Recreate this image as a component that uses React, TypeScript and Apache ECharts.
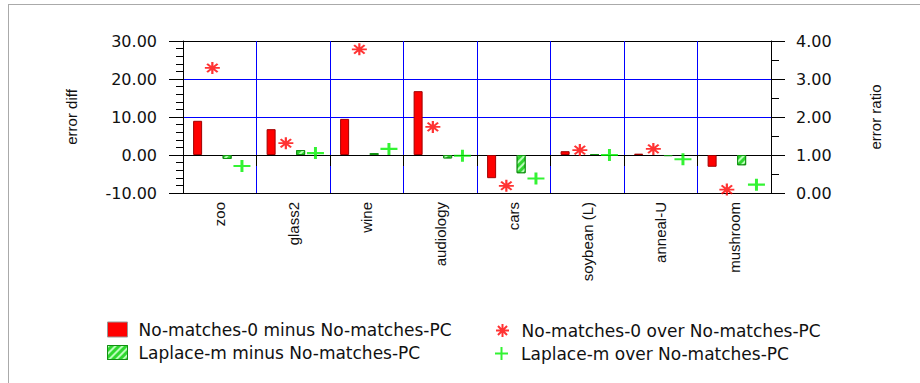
import React, { useEffect, useRef } from "react";
import * as echarts from "echarts";

const categories = ["zoo", "glass2", "wine", "audiology", "cars", "soybean (L)", "anneal-U", "mushroom"];
const diffNoMatches0 = [9.0, 6.8, 9.5, 16.8, -6.1, 1.0, 0.35, -3.1];
const diffLaplace = [-1.05, 1.3, 0.5, -0.9, -4.8, 0.25, -0.3, -2.7];
const ratioNoMatches0 = [3.29, 1.31, 3.78, 1.74, 0.19, 1.13, 1.16, 0.09];
const ratioLaplace = [0.71, 1.05, 1.16, 0.98, 0.38, 1.0, 0.89, 0.22];
const seriesNames = [
  "No-matches-0 minus No-matches-PC",
  "Laplace-m minus No-matches-PC",
  "No-matches-0 over No-matches-PC",
  "Laplace-m over No-matches-PC",
];

const STAR = "path://M0,6L12,6M6,0L6,12M1.8,1.8L10.2,10.2M10.2,1.8L1.8,10.2";
const PLUS = "path://M0,6L12,6M6,0L6,12";
const HFONT = "DejaVu Sans";
const VFONT = "Liberation Sans";

export default function App() {
  const ref = useRef<HTMLDivElement>(null);
  useEffect(() => {
    if (!ref.current) return;
    const chart = echarts.init(ref.current, null, { renderer: "svg" });
    const legendText = { fontFamily: HFONT, fontSize: 17, color: "#111", padding: [0, 0, 0, 6] };
    const greenDecal = {
      symbol: "rect",
      color: "rgba(200,255,200,0.9)",
      dashArrayX: [1, 0],
      dashArrayY: [2, 3],
      rotation: -Math.PI / 4,
    };
    chart.setOption({
      animation: false,
      backgroundColor: "#fff",
      graphic: [
        { type: "line", shape: { x1: 8, y1: 4.5, x2: 920, y2: 4.5 }, style: { stroke: "#aaa", lineWidth: 1 } },
        { type: "line", shape: { x1: 8.5, y1: 4, x2: 8.5, y2: 383 }, style: { stroke: "#aaa", lineWidth: 1 } },
      ],
      grid: { left: 183, right: 149, top: 41, bottom: 190 },
      legend: [
        { data: [{ name: seriesNames[0], icon: "rect", itemStyle: { borderWidth: 1, borderColor: "#999" } }], left: 107, top: 321, padding: 0, itemWidth: 20, itemHeight: 15, textStyle: legendText, selectedMode: false },
        { data: [{ name: seriesNames[1], icon: "rect", itemStyle: { borderWidth: 1 } }], left: 107, top: 344, padding: 0, itemWidth: 20, itemHeight: 14, textStyle: legendText, selectedMode: false },
        { data: [{ name: seriesNames[2], icon: STAR }], left: 495, top: 322, padding: 0, itemWidth: 16, itemHeight: 13, textStyle: legendText, selectedMode: false },
        { data: [{ name: seriesNames[3], icon: PLUS }], left: 494, top: 345, padding: 0, itemWidth: 17, itemHeight: 13, textStyle: legendText, selectedMode: false },
      ],
      xAxis: {
        type: "category",
        data: categories,
        boundaryGap: true,
        axisLine: { show: true, lineStyle: { color: "#000", width: 1 } },
        axisTick: { show: true, length: 11, interval: 0, lineStyle: { color: "#000" } },
        axisLabel: { rotate: 90, interval: 0, margin: 9, padding: [8, 0, 0, 0], fontFamily: VFONT, fontSize: 15, color: "#111" },
        splitLine: { show: true, interval: 0, showMinLine: false, showMaxLine: false, lineStyle: { color: "#0000ff", width: 1 } },
      },
      yAxis: [
        {
          type: "value",
          min: -10,
          max: 30,
          interval: 10,
          name: "error diff",
          nameLocation: "middle",
          nameRotate: 90,
          nameGap: 104,
          nameTextStyle: { fontFamily: VFONT, fontSize: 15, color: "#111" },
          axisLine: { show: true, lineStyle: { color: "#000" } },
          axisTick: { show: true, length: 14, lineStyle: { color: "#000" } },
          minorTick: { show: true, splitNumber: 5, length: 7, lineStyle: { color: "#000" } },
          axisLabel: { margin: 26, fontFamily: HFONT, fontSize: 16, color: "#111", formatter: (v: number) => v.toFixed(2) },
          splitLine: { show: true, lineStyle: { color: ["#000", "#000", "#0000ff", "#0000ff", "#000"], width: 1 } },
        },
        {
          type: "value",
          position: "right",
          min: 0,
          max: 4,
          interval: 1,
          name: "error ratio",
          nameLocation: "middle",
          nameRotate: 90,
          nameGap: 97,
          nameTextStyle: { fontFamily: VFONT, fontSize: 15, color: "#111" },
          axisLine: { show: true, lineStyle: { color: "#000" } },
          axisTick: { show: true, length: 14, lineStyle: { color: "#000" } },
          minorTick: { show: true, splitNumber: 2, length: 8, lineStyle: { color: "#000" } },
          axisLabel: { margin: 25, fontFamily: HFONT, fontSize: 16, color: "#111", formatter: (v: number) => v.toFixed(2) },
          splitLine: { show: false },
        },
      ],
      series: [
        {
          name: seriesNames[0],
          type: "bar",
          yAxisIndex: 0,
          data: diffNoMatches0,
          barWidth: 9,
          barGap: "64%",
          itemStyle: { color: "#ff0000", borderColor: "#a00000", borderWidth: 1 },
        },
        { name: "spacer1", type: "bar", yAxisIndex: 0, data: [], barWidth: 9, barGap: "64%" },
        {
          name: seriesNames[1],
          type: "bar",
          yAxisIndex: 0,
          data: diffLaplace,
          barWidth: 9,
          barGap: "64%",
          itemStyle: { color: "#2fd82f", borderColor: "#129012", borderWidth: 1, decal: greenDecal },
        },
        { name: "spacer2", type: "bar", yAxisIndex: 0, data: [], barWidth: 9, barGap: "64%" },
        {
          name: seriesNames[2],
          type: "scatter",
          yAxisIndex: 1,
          data: ratioNoMatches0,
          symbol: STAR,
          symbolSize: [15, 12],
          symbolOffset: [-7.4, 0],
          itemStyle: { color: "#ff0000", borderColor: "#ff0000", borderWidth: 2 },
          z: 5,
        },
        {
          name: seriesNames[3],
          type: "scatter",
          yAxisIndex: 1,
          data: ratioLaplace,
          symbol: PLUS,
          symbolSize: [17, 12],
          symbolOffset: [22.2, 0],
          itemStyle: { color: "#00f000", borderColor: "#00f000", borderWidth: 2.5 },
          z: 5,
        },
      ],
    });
    return () => chart.dispose();
  }, []);
  return <div ref={ref} style={{ position: "absolute", left: 0, top: 0, width: 920, height: 383 }} />;
}
